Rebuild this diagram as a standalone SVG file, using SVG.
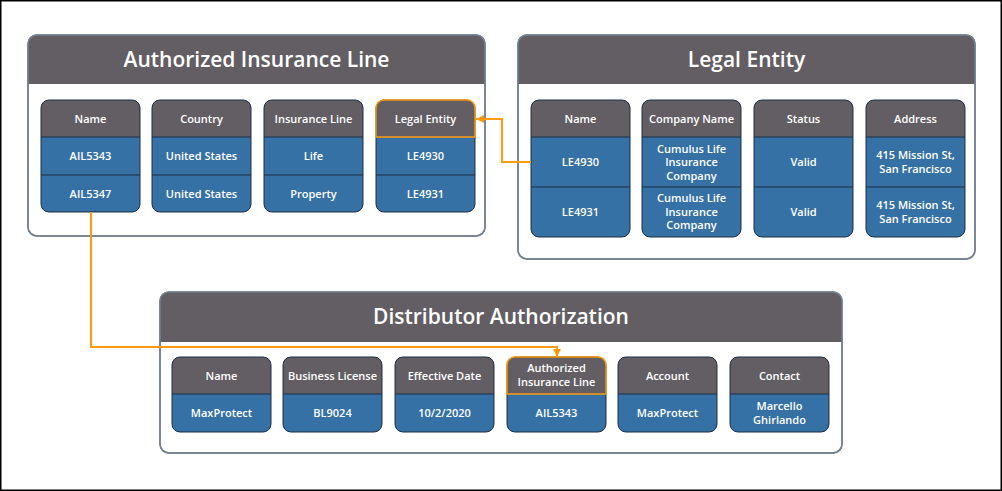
<svg xmlns="http://www.w3.org/2000/svg" width="1002" height="491" viewBox="0 0 1002 491">
<defs>
<style>
.frame{fill:#ffffff;stroke:#000000;stroke-width:1.5}
.panel{fill:#ffffff;stroke:#73808f;stroke-width:1.5}
.panelhd{fill:#635e64}
.title{font-family:"Open Sans","Liberation Sans",sans-serif;font-weight:600;font-size:21px;fill:#ffffff;text-anchor:middle}
.colhd{fill:#635e64}
.colbody{fill:#3671a5}
.colline{stroke:#1c2e45;stroke-width:1;fill:none}
.colout{fill:none;stroke:#1c2e45;stroke-width:1}
.hl{fill:none;stroke:#ff9a0d;stroke-width:1.5}
.lbl{font-family:"Open Sans","Liberation Sans",sans-serif;font-weight:600;font-size:11px;fill:#ffffff;text-anchor:middle}
.conn{fill:none;stroke:#ff9a0d;stroke-width:2}
</style>
<marker id="arrow" viewBox="0 0 10 10" refX="10" refY="5" markerWidth="8" markerHeight="8" markerUnits="userSpaceOnUse" orient="auto">
<path d="M0,0 L10,5 L0,10 Z" fill="#ff9a0d"/>
</marker>
</defs>
<rect class="frame" x="0.75" y="0.75" width="1000.5" height="489.5"/>

<g id="panel-ail">
<rect class="panel" x="28" y="35" width="457" height="201" rx="9"/>
<path class="panelhd" d="M28,84 V44 A9,9 0 0 1 37,35 H476 A9,9 0 0 1 485,44 V84 Z"/>
<rect class="panel" x="28" y="35" width="457" height="201" rx="9" style="fill:none"/>
<text class="title" x="256.5" y="67">Authorized Insurance Line</text>
</g>

<g id="ail-name">
<path class="colhd" d="M41,137 V108 A8,8 0 0 1 49,100 H132 A8,8 0 0 1 140,108 V137 Z"/>
<path class="colbody" d="M41,137 H140 V204 A8,8 0 0 1 132,212 H49 A8,8 0 0 1 41,204 Z"/>
<line class="colline" x1="41" y1="137" x2="140" y2="137"/><line class="colline" x1="41" y1="175" x2="140" y2="175"/>
<rect class="colout" x="41" y="100" width="99" height="112" rx="8"/>
<text class="lbl" x="90.5" y="122.5">Name</text>
<text class="lbl" x="90.5" y="160">AIL5343</text>
<text class="lbl" x="90.5" y="197.5">AIL5347</text>
</g>
<g id="ail-country">
<path class="colhd" d="M152,137 V108 A8,8 0 0 1 160,100 H243 A8,8 0 0 1 251,108 V137 Z"/>
<path class="colbody" d="M152,137 H251 V204 A8,8 0 0 1 243,212 H160 A8,8 0 0 1 152,204 Z"/>
<line class="colline" x1="152" y1="137" x2="251" y2="137"/><line class="colline" x1="152" y1="175" x2="251" y2="175"/>
<rect class="colout" x="152" y="100" width="99" height="112" rx="8"/>
<text class="lbl" x="201.5" y="122.5">Country</text>
<text class="lbl" x="201.5" y="160">United States</text>
<text class="lbl" x="201.5" y="197.5">United States</text>
</g>
<g id="ail-line">
<path class="colhd" d="M264,137 V108 A8,8 0 0 1 272,100 H355 A8,8 0 0 1 363,108 V137 Z"/>
<path class="colbody" d="M264,137 H363 V204 A8,8 0 0 1 355,212 H272 A8,8 0 0 1 264,204 Z"/>
<line class="colline" x1="264" y1="137" x2="363" y2="137"/><line class="colline" x1="264" y1="175" x2="363" y2="175"/>
<rect class="colout" x="264" y="100" width="99" height="112" rx="8"/>
<text class="lbl" x="313.5" y="122.5">Insurance Line</text>
<text class="lbl" x="313.5" y="160">Life</text>
<text class="lbl" x="313.5" y="197.5">Property</text>
</g>
<g id="ail-legal">
<path class="colhd" d="M376,137 V108 A8,8 0 0 1 384,100 H467 A8,8 0 0 1 475,108 V137 Z"/>
<path class="colbody" d="M376,137 H475 V204 A8,8 0 0 1 467,212 H384 A8,8 0 0 1 376,204 Z"/>
<line class="colline" x1="376" y1="175" x2="475" y2="175"/>
<rect class="colout" x="376" y="100" width="99" height="112" rx="8"/>
<path class="hl" d="M376,137 V108 A8,8 0 0 1 384,100 H467 A8,8 0 0 1 475,108 V137 Z"/>
<text class="lbl" x="425.5" y="122.5">Legal Entity</text>
<text class="lbl" x="425.5" y="160">LE4930</text>
<text class="lbl" x="425.5" y="197.5">LE4931</text>
</g>

<g id="panel-le">
<rect class="panel" x="518" y="35" width="457" height="224" rx="9"/>
<path class="panelhd" d="M518,84 V44 A9,9 0 0 1 527,35 H966 A9,9 0 0 1 975,44 V84 Z"/>
<rect class="panel" x="518" y="35" width="457" height="224" rx="9" style="fill:none"/>
<text class="title" x="746.5" y="67">Legal Entity</text>
</g>

<g id="le-name">
<path class="colhd" d="M531,137 V108 A8,8 0 0 1 539,100 H622 A8,8 0 0 1 630,108 V137 Z"/>
<path class="colbody" d="M531,137 H630 V229 A8,8 0 0 1 622,237 H539 A8,8 0 0 1 531,229 Z"/>
<line class="colline" x1="531" y1="137" x2="630" y2="137"/><line class="colline" x1="531" y1="187" x2="630" y2="187"/>
<rect class="colout" x="531" y="100" width="99" height="137" rx="8"/>
<text class="lbl" x="580.5" y="122.5">Name</text>
<text class="lbl" x="580.5" y="166">LE4930</text>
<text class="lbl" x="580.5" y="216">LE4931</text>
</g>
<g id="le-company">
<path class="colhd" d="M642,137 V108 A8,8 0 0 1 650,100 H733 A8,8 0 0 1 741,108 V137 Z"/>
<path class="colbody" d="M642,137 H741 V229 A8,8 0 0 1 733,237 H650 A8,8 0 0 1 642,229 Z"/>
<line class="colline" x1="642" y1="137" x2="741" y2="137"/><line class="colline" x1="642" y1="187" x2="741" y2="187"/>
<rect class="colout" x="642" y="100" width="99" height="137" rx="8"/>
<text class="lbl" x="691.5" y="122.5">Company Name</text>
<text class="lbl" x="691.5" y="152.5">Cumulus Life</text>
<text class="lbl" x="691.5" y="166">Insurance</text>
<text class="lbl" x="691.5" y="179.5">Company</text>
<text class="lbl" x="691.5" y="202">Cumulus Life</text>
<text class="lbl" x="691.5" y="215.5">Insurance</text>
<text class="lbl" x="691.5" y="229">Company</text>
</g>
<g id="le-status">
<path class="colhd" d="M754,137 V108 A8,8 0 0 1 762,100 H845 A8,8 0 0 1 853,108 V137 Z"/>
<path class="colbody" d="M754,137 H853 V229 A8,8 0 0 1 845,237 H762 A8,8 0 0 1 754,229 Z"/>
<line class="colline" x1="754" y1="137" x2="853" y2="137"/><line class="colline" x1="754" y1="187" x2="853" y2="187"/>
<rect class="colout" x="754" y="100" width="99" height="137" rx="8"/>
<text class="lbl" x="803.5" y="122.5">Status</text>
<text class="lbl" x="803.5" y="166">Valid</text>
<text class="lbl" x="803.5" y="216">Valid</text>
</g>
<g id="le-address">
<path class="colhd" d="M866,137 V108 A8,8 0 0 1 874,100 H957 A8,8 0 0 1 965,108 V137 Z"/>
<path class="colbody" d="M866,137 H965 V229 A8,8 0 0 1 957,237 H874 A8,8 0 0 1 866,229 Z"/>
<line class="colline" x1="866" y1="137" x2="965" y2="137"/><line class="colline" x1="866" y1="187" x2="965" y2="187"/>
<rect class="colout" x="866" y="100" width="99" height="137" rx="8"/>
<text class="lbl" x="915.5" y="122.5">Address</text>
<text class="lbl" x="915.5" y="159">415 Mission St,</text>
<text class="lbl" x="915.5" y="172.5">San Francisco</text>
<text class="lbl" x="915.5" y="209">415 Mission St,</text>
<text class="lbl" x="915.5" y="222.5">San Francisco</text>
</g>

<g id="panel-da">
<rect class="panel" x="160" y="292" width="682" height="161" rx="9"/>
<path class="panelhd" d="M160,342 V301 A9,9 0 0 1 169,292 H833 A9,9 0 0 1 842,301 V342 Z"/>
<rect class="panel" x="160" y="292" width="682" height="161" rx="9" style="fill:none"/>
<text class="title" x="501" y="324">Distributor Authorization</text>
</g>

<g id="da-name">
<path class="colhd" d="M172,394 V365 A8,8 0 0 1 180,357 H263 A8,8 0 0 1 271,365 V394 Z"/>
<path class="colbody" d="M172,394 H271 V424 A8,8 0 0 1 263,432 H180 A8,8 0 0 1 172,424 Z"/>
<line class="colline" x1="172" y1="394" x2="271" y2="394"/>
<rect class="colout" x="172" y="357" width="99" height="75" rx="8"/>
<text class="lbl" x="221.5" y="379.5">Name</text>
<text class="lbl" x="221.5" y="417">MaxProtect</text>
</g>
<g id="da-license">
<path class="colhd" d="M283,394 V365 A8,8 0 0 1 291,357 H374 A8,8 0 0 1 382,365 V394 Z"/>
<path class="colbody" d="M283,394 H382 V424 A8,8 0 0 1 374,432 H291 A8,8 0 0 1 283,424 Z"/>
<line class="colline" x1="283" y1="394" x2="382" y2="394"/>
<rect class="colout" x="283" y="357" width="99" height="75" rx="8"/>
<text class="lbl" x="332.5" y="379.5">Business License</text>
<text class="lbl" x="332.5" y="417">BL9024</text>
</g>
<g id="da-date">
<path class="colhd" d="M395,394 V365 A8,8 0 0 1 403,357 H486 A8,8 0 0 1 494,365 V394 Z"/>
<path class="colbody" d="M395,394 H494 V424 A8,8 0 0 1 486,432 H403 A8,8 0 0 1 395,424 Z"/>
<line class="colline" x1="395" y1="394" x2="494" y2="394"/>
<rect class="colout" x="395" y="357" width="99" height="75" rx="8"/>
<text class="lbl" x="444.5" y="379.5">Effective Date</text>
<text class="lbl" x="444.5" y="417">10/2/2020</text>
</g>
<g id="da-ail">
<path class="colhd" d="M507,394 V365 A8,8 0 0 1 515,357 H598 A8,8 0 0 1 606,365 V394 Z"/>
<path class="colbody" d="M507,394 H606 V424 A8,8 0 0 1 598,432 H515 A8,8 0 0 1 507,424 Z"/>
<rect class="colout" x="507" y="357" width="99" height="75" rx="8"/>
<path class="hl" d="M507,394 V365 A8,8 0 0 1 515,357 H598 A8,8 0 0 1 606,365 V394 Z"/>
<text class="lbl" x="556.5" y="372">Authorized</text>
<text class="lbl" x="556.5" y="386">Insurance Line</text>
<text class="lbl" x="556.5" y="417">AIL5343</text>
</g>
<g id="da-account">
<path class="colhd" d="M618,394 V365 A8,8 0 0 1 626,357 H709 A8,8 0 0 1 717,365 V394 Z"/>
<path class="colbody" d="M618,394 H717 V424 A8,8 0 0 1 709,432 H626 A8,8 0 0 1 618,424 Z"/>
<line class="colline" x1="618" y1="394" x2="717" y2="394"/>
<rect class="colout" x="618" y="357" width="99" height="75" rx="8"/>
<text class="lbl" x="667.5" y="379.5">Account</text>
<text class="lbl" x="667.5" y="417">MaxProtect</text>
</g>
<g id="da-contact">
<path class="colhd" d="M730,394 V365 A8,8 0 0 1 738,357 H821 A8,8 0 0 1 829,365 V394 Z"/>
<path class="colbody" d="M730,394 H829 V424 A8,8 0 0 1 821,432 H738 A8,8 0 0 1 730,424 Z"/>
<line class="colline" x1="730" y1="394" x2="829" y2="394"/>
<rect class="colout" x="730" y="357" width="99" height="75" rx="8"/>
<text class="lbl" x="779.5" y="379.5">Contact</text>
<text class="lbl" x="779.5" y="410">Marcello</text>
<text class="lbl" x="779.5" y="423.5">Ghirlando</text>
</g>

<g id="connectors">
<path class="conn" d="M531,162 H502 V119 H476" marker-end="url(#arrow)"/>
<path class="conn" d="M91,212 V347 H557 V357" marker-end="url(#arrow)"/>
</g>
</svg>
